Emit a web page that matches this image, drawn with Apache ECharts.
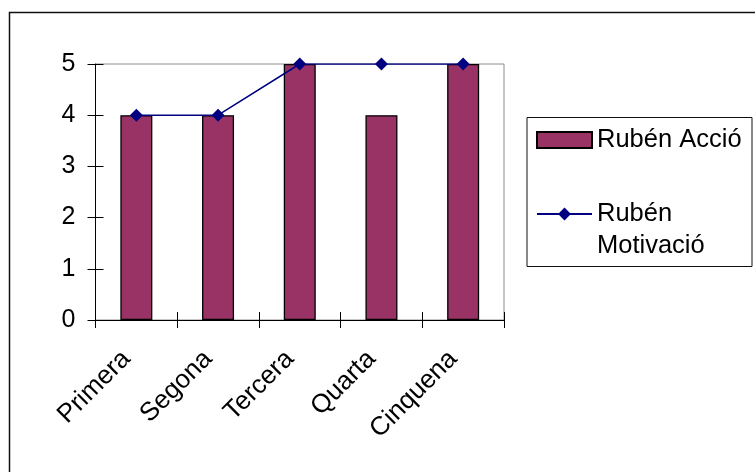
<!DOCTYPE html>
<html>
<head>
<meta charset="utf-8">
<style>
  html, body { margin: 0; padding: 0; background: #fff; }
  #chart { width: 755px; height: 472px; }
</style>
<script src="https://cdn.jsdelivr.net/npm/echarts@6/dist/echarts.min.js"></script>
</head>
<body>
<div id="chart"></div>
<script>
// Session labels and the two scored series
const categories = ['Primera', 'Segona', 'Tercera', 'Quarta', 'Cinquena'];
const accioValues = [4, 4, 5, 4, 5];
const motivacioValues = [4, 4, 5, 5, 5];
const accioName = 'Rubén Acció';
const motivacioName = 'Rubén\nMotivació';

const FONT = '"Liberation Sans", Arial, sans-serif';

const chart = echarts.init(document.getElementById('chart'), null, { renderer: 'canvas' });

const yBase = { type: 'value', min: 0, max: 5, interval: 1, splitLine: { show: false } };

chart.setOption({
  animation: false,
  backgroundColor: '#fff',
  textStyle: { fontFamily: FONT },
  grid: {
    left: 95.5, right: 251, top: 64, bottom: 152,
    show: true, borderColor: '#8c8c8c', borderWidth: 1, backgroundColor: 'transparent'
  },
  graphic: [
    // outer chart frame (extends past the right and bottom edges)
    { type: 'rect', shape: { x: 9.5, y: 12.5, width: 900, height: 600 },
      style: { fill: 'none', stroke: '#111', lineWidth: 1.5 }, z: 0, silent: true },
    // legend frame
    { type: 'rect', shape: { x: 527, y: 117.5, width: 225, height: 149 },
      style: { fill: '#fff', stroke: '#111', lineWidth: 1 }, z: 1, silent: true }
  ],
  legend: {
    orient: 'vertical',
    left: 536, top: 124,
    padding: 0,
    itemWidth: 55, itemHeight: 16,
    itemGap: 10,
    z: 10,
    textStyle: { fontFamily: FONT, fontSize: 25.5, color: '#000', lineHeight: 32 },
    formatter: n => (n.indexOf('\n') >= 0 ? '\n' + n : n),
    data: [{ name: accioName, icon: 'rect' }, { name: motivacioName }]
  },
  xAxis: [
    {
      type: 'category', data: categories, boundaryGap: true,
      axisLine: { lineStyle: { color: '#000', width: 1 } },
      axisTick: { show: true, inside: false, length: 8, lineStyle: { color: '#000' } },
      axisLabel: {
        rotate: 45, fontSize: 26, color: '#000', margin: 25, fontFamily: FONT,
        padding: [0, 14, 0, 0]
      }
    },
    {
      type: 'category', data: categories, boundaryGap: true, position: 'bottom',
      axisLine: { show: false },
      axisTick: { show: true, inside: true, length: 8, lineStyle: { color: '#000' } },
      axisLabel: { show: false }
    }
  ],
  yAxis: [
    Object.assign({}, yBase, {
      axisLine: { show: true, lineStyle: { color: '#000', width: 1 } },
      axisTick: { show: true, inside: false, length: 8, lineStyle: { color: '#000' } },
      axisLabel: { fontSize: 25, color: '#000', margin: 20, fontFamily: FONT }
    }),
    Object.assign({}, yBase, {
      position: 'left',
      axisLine: { show: false },
      axisTick: { show: true, inside: true, length: 8, lineStyle: { color: '#000' } },
      axisLabel: { show: false }
    })
  ],
  series: [
    {
      name: accioName, type: 'bar', data: accioValues, barWidth: 32,
      itemStyle: { color: '#993366', borderColor: '#000', borderWidth: 1.3 },
      z: 2
    },
    {
      name: motivacioName, type: 'line', data: motivacioValues,
      symbol: 'diamond', symbolSize: 13, showSymbol: true,
      lineStyle: { color: '#000080', width: 1.5 },
      itemStyle: { color: '#000080' },
      z: 5
    }
  ]
});
</script>
</body>
</html>
